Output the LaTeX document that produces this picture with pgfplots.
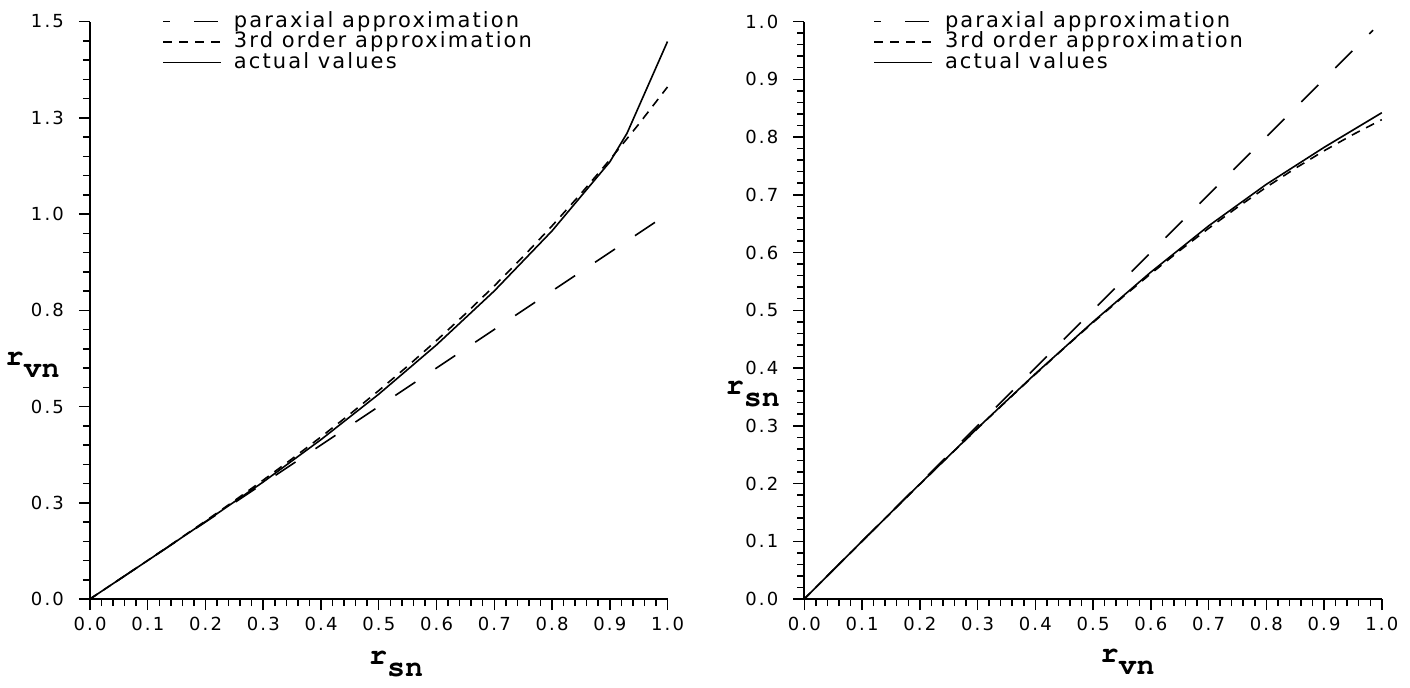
\documentclass[border=0pt]{standalone}
\usepackage{fontspec}
\setmainfont{DejaVu Sans}
\newfontfamily\legfont[LetterSpace=10]{DejaVu Sans}
\newfontfamily\tickfont[LetterSpace=12]{DejaVu Sans}
\newfontfamily\labfont{TeX Gyre Cursor}
\usepackage{pgfplots}
\pgfplotsset{compat=1.18}

\newcommand{\sublab}[2]{{\labfont\bfseries\fontsize{15}{15}\selectfont #1\raisebox{-6pt}{#2}}}

\pgfplotsset{
  raypanel/.style={
    scale only axis, width=288.75pt, height=288.75pt,
    axis lines=left, axis line style={-, line width=1pt},
    xmin=0, xmax=1, ymin=0,
    xtick={0,0.1,0.2,0.3,0.4,0.5,0.6,0.7,0.8,0.9,1},
    minor x tick num=4, minor y tick num=4,
    tick align=outside, major tick length=5.5pt, minor tick length=3.5pt,
    every tick/.style={black, line width=0.75pt},
    tick label style={font=\tickfont\fontsize{9}{11}\selectfont},
    /pgf/number format/assume math mode=true,
    xticklabel style={/pgf/number format/.cd, fixed, fixed zerofill, precision=1},
    yticklabel style={xshift=-4pt},
    clip=false,
    every axis x label/.style={at={(rel axis cs:0.53,0)}, anchor=north, yshift=-26pt, inner sep=0pt},
    legend image code/.code={\draw[##1] (0pt,0pt) -- (29pt,0pt);},
    legend cell align=left,
    legend style={draw=none, fill=none, anchor=north west, inner sep=0pt,
      font=\legfont\fontsize{10.5}{12}\selectfont,
      nodes={inner sep=0pt, text height=7.5pt, text depth=2pt},
      row sep=0.75pt,
      /tikz/every odd column/.append style={column sep=6pt}},
  },
  paraxial/.style={black, line width=0.8pt, dash pattern=on 12pt off 12pt, dash phase=8.5pt},
  third/.style={black, line width=0.8pt, dash pattern=on 4.5pt off 3.5pt},
  actual/.style={black, line width=0.8pt},
}

\begin{document}
\begin{tikzpicture}
\useasboundingbox (-45pt,-44pt) rectangle (660pt,299.5pt);

\begin{axis}[raypanel,
    ymax=1.5,
    ytick={0,0.25,0.5,0.75,1,1.25,1.5},
    yticklabels={0.0,0.3,0.5,0.8,1.0,1.3,1.5},
    xlabel={\sublab{r}{sn}},
    every axis y label/.style={at={(rel axis cs:0,0.405)}, anchor=east, xshift=-15pt, inner sep=0pt},
    ylabel={\sublab{r}{vn}},
    legend style={at={(rel axis cs:0.1246,1.017)}},
  ]
\addplot[paraxial] coordinates {(0,0) (1,1)};
\addlegendentry{paraxial approximation}
\addplot[third] coordinates {
  (0,0) (0.05,0.0500) (0.1,0.1003) (0.15,0.1511) (0.2,0.2026) (0.25,0.2552)
  (0.3,0.3089) (0.35,0.3642) (0.4,0.4211) (0.45,0.4801) (0.5,0.5413)
  (0.55,0.6049) (0.6,0.6713) (0.65,0.7406) (0.7,0.8132) (0.75,0.8892)
  (0.8,0.9690) (0.85,1.0527) (0.9,1.1406) (0.95,1.2329) (1.0,1.3300)
};
\addlegendentry{3rd order approximation}
\addplot[actual] coordinates {
  (0,0) (0.1,0.100) (0.2,0.201) (0.3,0.304) (0.4,0.414) (0.5,0.532)
  (0.6,0.660) (0.7,0.800) (0.8,0.956) (0.9,1.135) (0.93,1.210) (1.0,1.448)
};
\addlegendentry{actual values}
\end{axis}

\begin{axis}[raypanel, at={(357.15pt,0pt)},
    ymax=1,
    ytick={0,0.1,0.2,0.3,0.4,0.5,0.6,0.7,0.8,0.9,1},
    yticklabel style={/pgf/number format/.cd, fixed, fixed zerofill, precision=1},
    xlabel={\sublab{r}{vn}},
    every axis x label/.style={at={(rel axis cs:0.56,0)}, anchor=north, yshift=-25pt, inner sep=0pt},
    every axis y label/.style={at={(rel axis cs:0,0.355)}, anchor=east, xshift=-12pt, inner sep=0pt},
    ylabel={\sublab{r}{sn}},
    legend style={at={(rel axis cs:0.119,1.017)}},
  ]
\addplot[paraxial] coordinates {(0,0) (0.985,0.985)};
\addlegendentry{paraxial approximation}
\addplot[third] coordinates {
  (0,0) (0.05,0.0500) (0.1,0.0998) (0.15,0.1494) (0.2,0.1986) (0.25,0.2473)
  (0.3,0.2954) (0.35,0.3427) (0.4,0.3891) (0.45,0.4345) (0.5,0.4788)
  (0.55,0.5217) (0.6,0.5633) (0.65,0.6033) (0.7,0.6417) (0.75,0.6783)
  (0.8,0.7130) (0.85,0.7456) (0.9,0.7761) (0.95,0.8042) (1.0,0.8300)
};
\addlegendentry{3rd order approximation}
\addplot[actual] coordinates {
  (0,0) (0.1,0.100) (0.2,0.199) (0.3,0.296) (0.4,0.390) (0.5,0.480)
  (0.6,0.566) (0.7,0.646) (0.8,0.718) (0.9,0.782) (1.0,0.842)
};
\addlegendentry{actual values}
\end{axis}
\end{tikzpicture}
\end{document}
